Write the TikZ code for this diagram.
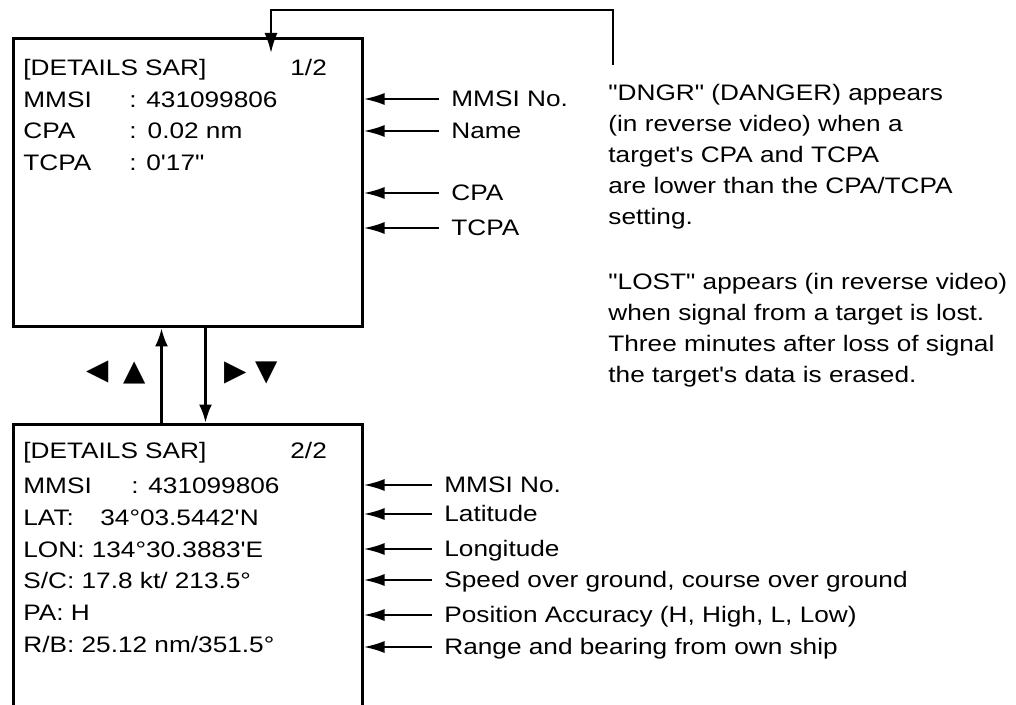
\documentclass[tikz,border=0pt]{standalone}
\usepackage{fontspec}
\setmainfont{Liberation Sans}[FakeStretch=1.17, Ligatures=TeXOff]
\newfontfamily\keyfont{DejaVu Sans}
\usetikzlibrary{arrows.meta}

\tikzset{
	screen/.style={draw, line width=1.5pt, anchor=north west, inner sep=0pt, minimum width=174.5pt},
	scr/.style={anchor=base west, inner sep=0pt},
	callout/.style={anchor=west, inner xsep=6pt, inner ysep=0pt, text height=0.716em, text depth=0pt},
	note/.style={anchor=north west, inner sep=0pt, align=left},
	keytri/.style={inner sep=0pt, font=\keyfont\fontsize{14.5}{15}\selectfont},
	pointer/.style={line width=1.2pt, -{Latex[length=10.5pt, width=6pt]}},
	pagekey/.style={line width=1.1pt, -{Latex[length=9pt, width=6.5pt]}},
	feed/.style={line width=1.1pt, -{Latex[length=10pt, width=6.5pt]}},
}

\begin{document}
\begin{tikzpicture}[x=0.5pt, y=-0.5pt, font=\fontsize{11.2}{15.5}\selectfont]
		\clip (0,0) rectangle (1016,705);
		
		% Page 1/2
		\node[screen, minimum height=144pt] (pageone) at (11.5,37.5) {};
		\node[scr] (ptitle) at (23,76) {[DETAILS SAR]};
		\node[scr] (pnum) at (290,76) {1/2};
		\node[scr] (pmmsi) at (23,108) {MMSI};
		\node[scr] (pmmsiv) at (129,108) {: 431099806};
		\node[scr] (pcpa) at (23,139) {CPA};
		\node[scr] (pcpav) at (129,139) {:\ \,0.02 nm};
		\node[scr] (ptcpa) at (23,171) {TCPA};
		\node[scr] (ptcpav) at (129,171) {: 0'17"};
		
		% Page 2/2
		\node[screen, minimum height=170pt] (pagetwo) at (11.5,422.5) {};
		\node[scr] (qtitle) at (23,458) {[DETAILS SAR]};
		\node[scr] (qnum) at (290,458) {2/2};
		\node[scr] (qmmsi) at (23,493) {MMSI};
		\node[scr] (qmmsiv) at (131,493) {: 431099806};
		\node[scr] (qlat) at (23,525) {LAT:};
		\node[scr] (qlatv) at (100,525) {34°03.5442'N};
		\node[scr] (qlon) at (23,557) {LON: 134°30.3883'E};
		\node[scr] (qsc) at (23,588) {S/C: 17.8 kt/ 213.5°};
		\node[scr] (qpa) at (23,620) {PA: H};
		\node[scr] (qrb) at (23,652) {R/B: 25.12 nm/351.5°};
		
		% Keys between pages
		\node[keytri] (keyleft) at (98,372) {◀};
		\node[keytri] (keyup) at (135,373) {▲};
		\node[keytri] (keyright) at (236,373) {▶};
		\node[keytri] (keydown) at (267,373) {▼};
		\draw[pagekey] ([xshift=75pt]pagetwo.north west) -- ([xshift=75pt]pageone.south west);
		\draw[pagekey] ([xshift=97pt]pageone.south west) -- ([xshift=97pt]pagetwo.north west);
		
		% Callouts page 1/2
		\node[callout] (lmmsi) at (439,99) {MMSI No.};
		\node[callout] (lname) at (439,131) {Name};
		\node[callout] (lcpa) at (439,193) {CPA};
		\node[callout] (ltcpa) at (439,228) {TCPA};
		\foreach \l in {lmmsi, lname, lcpa, ltcpa}
			\draw[pointer] (\l.west) -- (\l.west -| pageone.east);
		
		% Callouts page 2/2
		\node[callout] (kmmsi) at (432,485) {MMSI No.};
		\node[callout] (klat) at (432,514) {Latitude};
		\node[callout] (klon) at (432,549) {Longitude};
		\node[callout] (ksog) at (432,580) {Speed over ground, course over ground};
		\node[callout] (kpa) at (432,615) {Position Accuracy (H, High, L, Low)};
		\node[callout] (krb) at (432,647) {Range and bearing from own ship};
		\foreach \l in {kmmsi, klat, klon, ksog, kpa, krb}
			\draw[pointer] (\l.west) -- (\l.west -| pagetwo.east);
		
		% Notes
		\node[note] (dngr) at (608,84) {"DNGR" (DANGER) appears\\(in reverse video) when a\\target's CPA and TCPA\\are lower than the CPA/TCPA\\setting.};
		\node[note] (lost) at (608,273) {"LOST" appears (in reverse video)\\when signal from a target is lost.\\Three minutes after loss of signal\\the target's data is erased.};
		\coordinate (dngrtop) at (613,65);
		\coordinate (pagein) at (271,53);
		\draw[feed] (dngrtop) -- ++(0,-55) -| (pagein);
	\end{tikzpicture}
\end{document}
